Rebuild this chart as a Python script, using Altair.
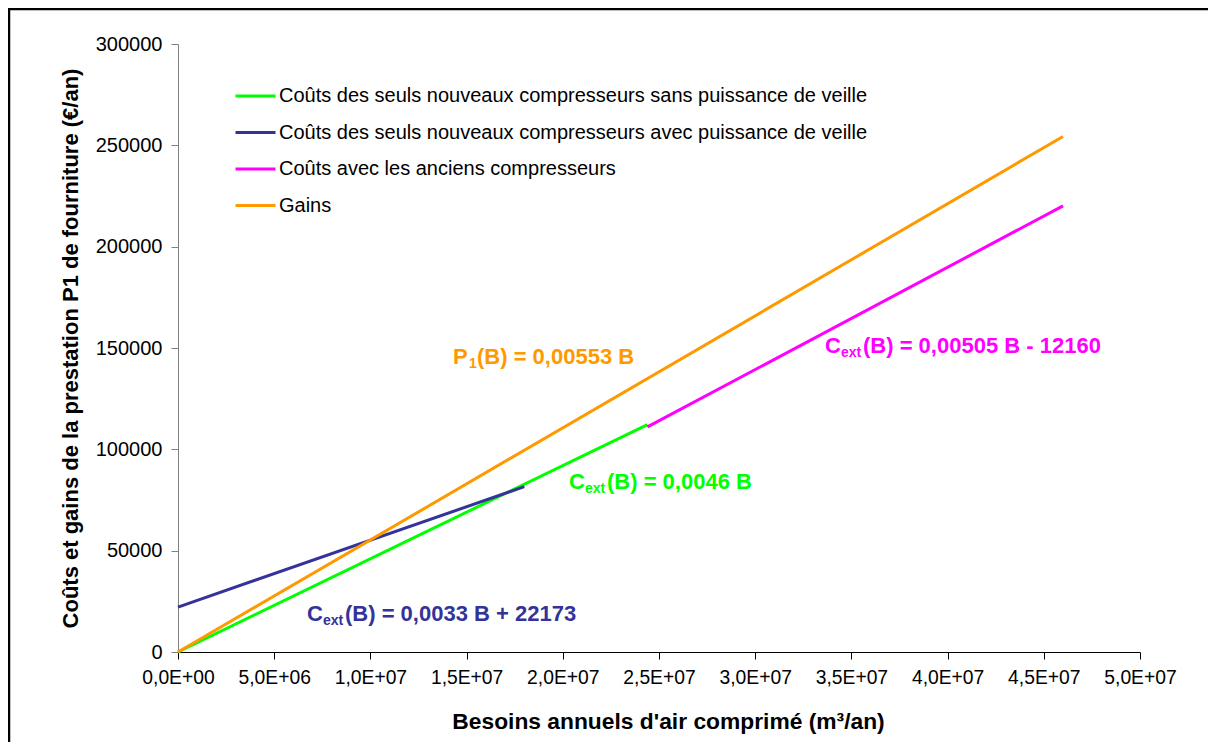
import altair as alt
import pandas as pd

FONT = "Liberation Sans"

# ---- series ----
series_names = [
    "Coûts des seuls nouveaux compresseurs sans puissance de veille",
    "Coûts des seuls nouveaux compresseurs avec puissance de veille",
    "Coûts avec les anciens compresseurs",
    "Gains",
]
series_colors = ["#00FF00", "#333399", "#FF00FF", "#FF9900"]

green_x = [0, 2.44e7]
green_y = [0, 112240]
navy_x = [0, 1.80e7]
navy_y = [22173, 81573]
magenta_x = [2.44e7, 4.60e7]
magenta_y = [111060, 220140]
orange_x = [0, 4.60e7]
orange_y = [0, 254380]

y_ticks = [0, 50000, 100000, 150000, 200000, 250000, 300000]
x_ticks = [0, 5e6, 1e7, 1.5e7, 2e7, 2.5e7, 3e7, 3.5e7, 4e7, 4.5e7, 5e7]

# ---- annotations: anchor (data coords), main letter, subscript, rest, colour ----
ann_x = [1.4293e7, 3.3628e7, 2.0322e7, 6.705e6]
ann_y = [142105, 147533, 80428, 15296]
ann_main = ["P", "C", "C", "C"]
ann_sub = ["1", "ext", "ext", "ext"]
ann_rest = ["(B) = 0,00553 B", "(B) = 0,00505 B - 12160", "(B) = 0,0046 B", "(B) = 0,0033 B + 22173"]
ann_color = ["#FF9900", "#FF00FF", "#00FF00", "#333399"]

rows = []
for name, xs, ys in zip(series_names, [green_x, navy_x, magenta_x, orange_x],
                        [green_y, navy_y, magenta_y, orange_y]):
    for i, (a, b) in enumerate(zip(xs, ys)):
        rows.append({"serie": name, "x": a, "y": b, "i": i})
df = pd.DataFrame(rows)

xscale = alt.Scale(domain=[0, 5e7], nice=False, zero=False)
yscale = alt.Scale(domain=[0, 300000], nice=False)

x_label_expr = (
    "datum.value == 0 ? '0,0E+00' : "
    "replace(format(datum.value / pow(10, floor(log(datum.value)/LN10 + 1e-9)), '.1f'), '.', ',')"
    " + 'E+' + (floor(log(datum.value)/LN10 + 1e-9) < 10 ? '0' : '') + floor(log(datum.value)/LN10 + 1e-9)"
)

lines = alt.Chart(df).mark_line(strokeWidth=3, clip=False).encode(
    x=alt.X("x:Q", scale=xscale,
            axis=alt.Axis(values=x_ticks, labelExpr=x_label_expr, grid=False,
                          title="Besoins annuels d'air comprimé (m³/an)",
                          titleFont=FONT, titleFontSize=22.8, titleFontWeight="bold",
                          titleColor="black", titleX=490, titleY=76, titleAlign="center",
                          titleBaseline="alphabetic",
                          labelFont=FONT, labelFontSize=19.3, labelColor="black",
                          labelPadding=9, tickSize=7, tickColor="black", domainColor="black",
                          labelFlush=False, labelOverlap=False)),
    y=alt.Y("y:Q", scale=yscale,
            axis=alt.Axis(values=y_ticks, format="d", grid=False,
                          title="Coûts et gains de la prestation P1 de fourniture (€/an)",
                          titleFont=FONT, titleFontSize=22, titleFontWeight="bold",
                          titleColor="black", titleAngle=-90, titleX=-101, titleY=304,
                          titleAlign="center", titleBaseline="alphabetic",
                          labelFont=FONT, labelFontSize=20, labelColor="black",
                          labelPadding=9, tickSize=7, tickColor="#808080",
                          domainColor="#808080", labelFlush=False, labelOverlap=False)),
    color=alt.Color("serie:N", scale=alt.Scale(domain=series_names, range=series_colors),
                    legend=alt.Legend(title=None, orient="none", legendX=56, legendY=30.5,
                                      symbolType="stroke", symbolSize=1600,
                                      symbolStrokeWidth=3, labelFont=FONT,
                                      labelFontSize=20, labelColor="black",
                                      labelOffset=2, rowPadding=4.5, padding=0,
                                      labelLimit=800)),
    order=alt.Order("i:Q"),
)

layers = [lines]
for k in range(len(ann_x)):
    adf = pd.DataFrame({"x": [ann_x[k]], "y": [ann_y[k]], "m": [ann_main[k]],
                        "s": [ann_sub[k]], "r": [ann_rest[k]]})
    sub_dx = 16
    rest_dx = 24 if ann_sub[k] == "1" else 38
    base = alt.Chart(adf)
    enc = dict(x=alt.X("x:Q", scale=xscale), y=alt.Y("y:Q", scale=yscale))
    layers.append(base.mark_text(align="left", baseline="alphabetic", font=FONT,
                                 fontSize=22, fontWeight="bold", color=ann_color[k])
                  .encode(text="m:N", **enc))
    layers.append(base.mark_text(align="left", baseline="alphabetic", font=FONT,
                                 fontSize=14, fontWeight="bold", color=ann_color[k],
                                 dx=sub_dx, dy=4)
                  .encode(text="s:N", **enc))
    layers.append(base.mark_text(align="left", baseline="alphabetic", font=FONT,
                                 fontSize=22, fontWeight="bold", color=ann_color[k],
                                 dx=rest_dx)
                  .encode(text="r:N", **enc))

border = alt.Chart(pd.DataFrame({"a": [0]})).mark_rect(
    fill="transparent", stroke="black", strokeWidth=2.5, clip=False
).encode(x=alt.value(-169), x2=alt.value(1100), y=alt.value(-35), y2=alt.value(760))
layers.append(border)

chart = alt.layer(*layers).properties(
    width=962, height=608,
    autosize=alt.AutoSizeParams(type="none"),
    padding={"left": 170, "top": 36, "right": 68, "bottom": 90},
    background="white",
).configure_view(stroke="transparent")

chart.save("out.html", embed_options={"renderer": "svg", "actions": False})
